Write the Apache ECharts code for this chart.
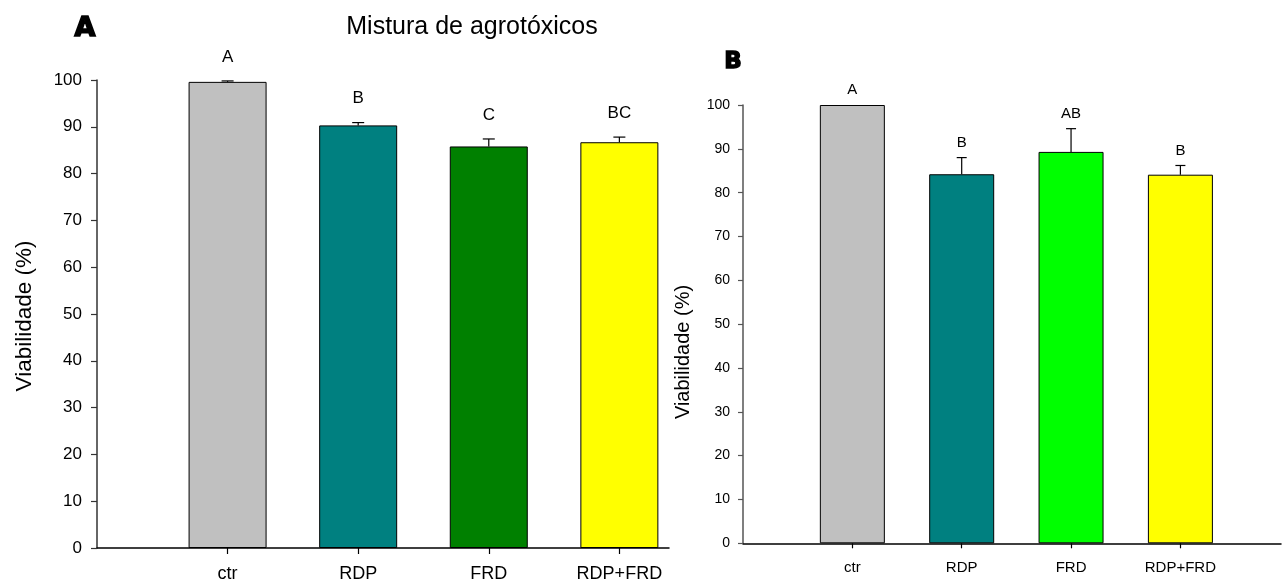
<!DOCTYPE html>
<html>
<head>
<meta charset="utf-8">
<script src="https://cdn.jsdelivr.net/npm/echarts@6/dist/echarts.min.js"></script>
<style>html,body{margin:0;padding:0;background:#fff}#c{width:1282px;height:583px}</style>
</head>
<body>
<div id="c"></div>
<script>
const categories = ['ctr', 'RDP', 'FRD', 'RDP+FRD'];
const positions = [1, 2, 3, 4];

const valuesA = [99.6, 90.3, 85.8, 86.7];
const errA = [0.2, 0.6, 1.6, 1.1];
const lettersA = ['A', 'B', 'C', 'BC'];
const colorsA = ['#C0C0C0', '#008080', '#008000', '#FFFF00'];

const valuesB = [100, 84.2, 89.3, 84.1];
const errB = [0, 3.8, 5.3, 2.1];
const lettersB = ['A', 'B', 'AB', 'B'];
const colorsB = ['#C0C0C0', '#008080', '#00FF00', '#FFFF00'];

const FONT = "'Liberation Sans', Arial, sans-serif";

function barData(vals, cols) {
  return vals.map((v, i) => ({ value: [positions[i], v], itemStyle: { color: cols[i] } }));
}
function errData(vals, errs, letters) {
  return vals.map((v, i) => ({ value: [positions[i], v, errs[i]], letter: letters[i] }));
}
function makeErr(letters, capW, offset, fontSize) {
  return function (params, api) {
    const x = api.value(0), v = api.value(1), e = api.value(2);
    const p0 = api.coord([x, v]);
    const p1 = api.coord([x, v + e]);
    const children = [];
    if (e > 0) {
      children.push({ type: 'line', shape: { x1: p0[0], y1: p0[1], x2: p1[0], y2: p1[1] }, style: { stroke: '#000', lineWidth: 1.2 } });
      children.push({ type: 'line', shape: { x1: p1[0] - capW / 2, y1: p1[1], x2: p1[0] + capW / 2, y2: p1[1] }, style: { stroke: '#000', lineWidth: 1.2 } });
    }
    children.push({ type: 'text', x: p1[0], y: p1[1] - offset, style: { text: letters[params.dataIndex], fontFamily: FONT, fontSize: fontSize, fill: '#000', align: 'center', verticalAlign: 'middle' } });
    return { type: 'group', children: children };
  };
}

const chart = echarts.init(document.getElementById('c'), null, { renderer: 'canvas' });
chart.setOption({
  animation: false,
  backgroundColor: '#fff',
  grid: [
    { left: 97, top: 80, width: 572, height: 470 },
    { left: 743, top: 105, width: 538, height: 438.3 }
  ],
  xAxis: [
    {
      gridIndex: 0, type: 'value', min: 0, max: 4.38, interval: 1,
      splitLine: { show: false },
      axisLine: { show: true, onZero: false, lineStyle: { color: '#000', width: 1.5 } },
      axisTick: { show: true, customValues: positions, length: 6, lineStyle: { color: '#000', width: 1.2 } },
      axisLabel: { customValues: positions, formatter: v => categories[Math.round(v) - 1] || '', margin: 17, fontSize: 18, fontFamily: FONT, color: '#000' }
    },
    {
      gridIndex: 1, type: 'value', min: 0, max: 4.92, interval: 1,
      splitLine: { show: false },
      axisLine: { show: true, onZero: false, lineStyle: { color: '#000', width: 1.5 } },
      axisTick: { show: true, customValues: positions, length: 5, lineStyle: { color: '#000', width: 1.2 } },
      axisLabel: { customValues: positions, formatter: v => categories[Math.round(v) - 1] || '', margin: 17, fontSize: 15, fontFamily: FONT, color: '#000' }
    }
  ],
  yAxis: [
    {
      gridIndex: 0, type: 'value', min: 0, max: 100, interval: 10,
      splitLine: { show: false },
      axisLine: { show: true, lineStyle: { color: '#333', width: 1.5 } },
      axisTick: { show: true, length: 6, lineStyle: { color: '#333', width: 1.2 } },
      axisLabel: { margin: 15, fontSize: 17, fontFamily: FONT, color: '#000' }
    },
    {
      gridIndex: 1, type: 'value', min: 0, max: 100, interval: 10,
      splitLine: { show: false },
      axisLine: { show: true, lineStyle: { color: '#555', width: 1.5 } },
      axisTick: { show: true, length: 5, lineStyle: { color: '#555', width: 1.2 } },
      axisLabel: { margin: 13, fontSize: 14, fontFamily: FONT, color: '#000' }
    }
  ],
  series: [
    {
      type: 'bar', xAxisIndex: 0, yAxisIndex: 0, barWidth: 78,
      itemStyle: { borderColor: '#000', borderWidth: 1 },
      data: barData(valuesA, colorsA)
    },
    {
      type: 'custom', xAxisIndex: 0, yAxisIndex: 0, clip: false, z: 5,
      renderItem: makeErr(lettersA, 12, 24, 17),
      data: errData(valuesA, errA, lettersA)
    },
    {
      type: 'bar', xAxisIndex: 1, yAxisIndex: 1, barWidth: 65,
      itemStyle: { borderColor: '#000', borderWidth: 1 },
      data: barData(valuesB, colorsB)
    },
    {
      type: 'custom', xAxisIndex: 1, yAxisIndex: 1, clip: false, z: 5,
      renderItem: makeErr(lettersB, 10, 15, 15),
      data: errData(valuesB, errB, lettersB)
    }
  ],
  graphic: [
    { type: 'text', x: 472, y: 27, style: { text: 'Mistura de agrotóxicos', fontFamily: FONT, fontSize: 25, fill: '#000', align: 'center', verticalAlign: 'middle' } },
    { type: 'text', x: 85, y: 29, style: { text: 'A', fontFamily: "'DejaVu Sans', sans-serif", fontWeight: 900, fontSize: 27, fill: '#000', stroke: '#000', lineWidth: 1.6, align: 'center', verticalAlign: 'middle' } },
    { type: 'text', x: 733, y: 62, style: { text: 'B', fontFamily: "'DejaVu Sans', sans-serif", fontWeight: 900, fontSize: 23, fill: '#000', stroke: '#000', lineWidth: 1.4, align: 'center', verticalAlign: 'middle' } },
    { type: 'text', x: 25, y: 316, rotation: Math.PI / 2, style: { text: 'Viabilidade (%)', fontFamily: FONT, fontSize: 22.5, fill: '#000', align: 'center', verticalAlign: 'middle' } },
    { type: 'text', x: 683, y: 352, rotation: Math.PI / 2, style: { text: 'Viabilidade (%)', fontFamily: FONT, fontSize: 20, fill: '#000', align: 'center', verticalAlign: 'middle' } }
  ]
});
</script>
</body>
</html>
